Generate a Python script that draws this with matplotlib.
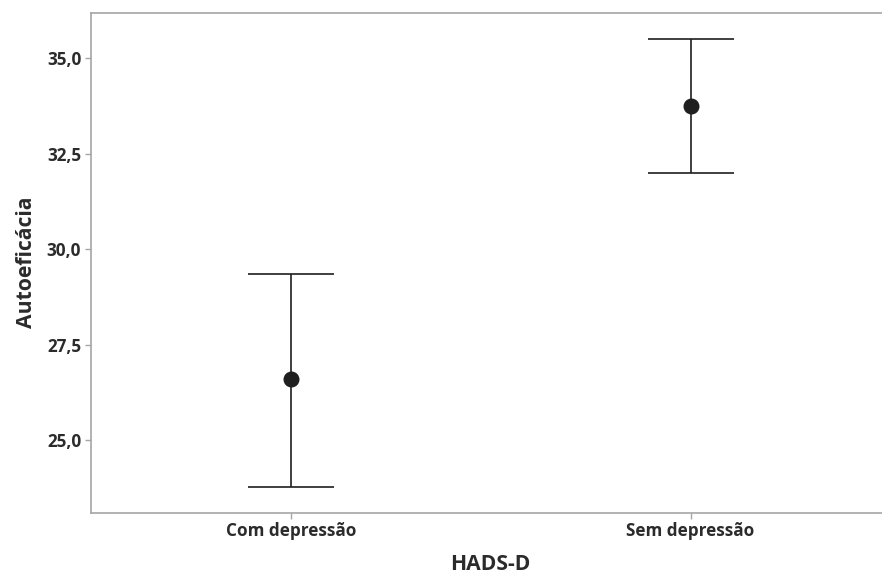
import matplotlib
matplotlib.use("Agg")
import matplotlib.pyplot as plt

categories = ["Com depressão", "Sem depressão"]
means = [26.59, 33.75]
lower = [23.78, 32.00]
upper = [29.35, 35.51]
yticks = [25.0, 27.5, 30.0, 32.5, 35.0]
ytick_labels = ["25,0", "27,5", "30,0", "32,5", "35,0"]

plt.rcParams['font.family'] = ['Open Sans', 'DejaVu Sans']

fig = plt.figure(figsize=(8.82, 5.74), dpi=100)
ax = fig.add_axes([91/882, 1-512.7/574, (890.5-91)/882, (512.7-12.5)/574])

x = list(range(1, len(categories)+1))
yerr = [[m - l for m, l in zip(means, lower)], [u - m for m, u in zip(means, upper)]]
ax.errorbar(x, means, yerr=yerr, fmt='o', color='#1f1f1f', ecolor='#1f1f1f',
            elinewidth=1.2, capsize=31, capthick=1.2, markersize=10.5)

ax.set_xlim(0.5, 2.5)
ax.set_ylim(23.10, 36.20)
ax.set_xticks(x)
ax.set_xticklabels(categories)
ax.set_yticks(yticks)
ax.set_yticklabels(ytick_labels)

txtc = '#2b2b2b'
for lab in ax.get_xticklabels() + ax.get_yticklabels():
    lab.set_fontweight('bold')
    lab.set_fontsize(12.3)
    lab.set_color(txtc)

ax.tick_params(axis='both', length=4, width=1, color='#a6a6a6', pad=3)
for s in ax.spines.values():
    s.set_color('#a6a6a6')
    s.set_linewidth(1.2)

ax.set_xlabel("HADS-D", fontsize=15.2, fontweight='bold', color=txtc, labelpad=10)
ax.set_ylabel("Autoeficácia", fontsize=15.2, fontweight='bold', color=txtc, labelpad=7)

fig.savefig("out.png", dpi=100)
